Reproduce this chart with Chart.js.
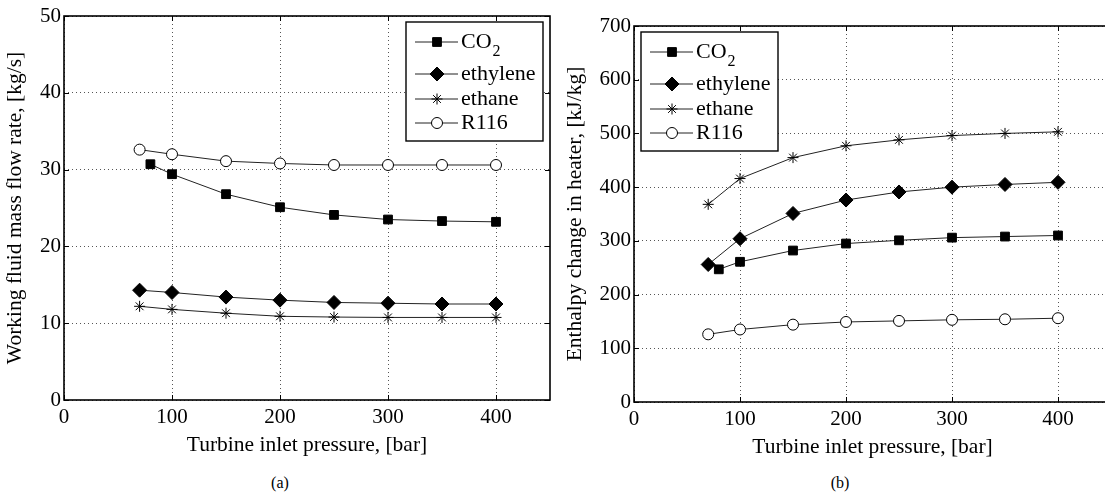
<!DOCTYPE html>
<html>
<head>
<meta charset="utf-8">
<script src="https://cdn.jsdelivr.net/npm/chart.js@4.4.1/dist/chart.umd.min.js"></script>
<style>
  html, body { margin:0; padding:0; background:#fff; }
  body { width:1105px; height:500px; overflow:hidden; position:relative; }
  canvas { position:absolute; top:0; }
  .cap { position:absolute; top:474px; width:60px; margin-left:-30px; text-align:center;
         font:16px 'Liberation Serif', 'DejaVu Serif', serif; color:#000; }
</style>
</head>
<body>
<canvas id="chartA" width="560" height="460" style="left:0"></canvas>
<canvas id="chartB" width="560" height="460" style="left:560px"></canvas>
<div class="cap" style="left:280px">(a)</div>
<div class="cap" style="left:840px">(b)</div>
<script>
// pressures, bar
const pressure    = [70, 100, 150, 200, 250, 300, 350, 400];
const pressureCO2 = [80, 100, 150, 200, 250, 300, 350, 400];

// (a) working fluid mass flow rate, kg/s
const flowCO2      = [30.7, 29.4, 26.8, 25.1, 24.1, 23.5, 23.3, 23.2];
const flowEthylene = [14.3, 14.0, 13.4, 13.0, 12.7, 12.6, 12.5, 12.5];
const flowEthane   = [12.2, 11.8, 11.3, 10.9, 10.8, 10.75, 10.75, 10.75];
const flowR116     = [32.6, 32.0, 31.1, 30.8, 30.6, 30.6, 30.6, 30.6];

// (b) enthalpy change in heater, kJ/kg
const dhCO2      = [247, 261, 282, 295, 301, 306, 308, 310];
const dhEthylene = [256, 304, 351, 376, 391, 400, 405, 409];
const dhEthane   = [368, 416, 455, 477, 488, 496, 500, 503];
const dhR116     = [126, 135, 144, 149, 151, 153, 154, 156];

const xTicks  = [0, 100, 200, 300, 400];
const yTicksA = [0, 10, 20, 30, 40, 50];
const yTicksB = [0, 100, 200, 300, 400, 500, 600, 700];
const names   = ['CO2', 'ethylene', 'ethane', 'R116'];

const FONT = "'Liberation Serif', 'DejaVu Serif', 'Times New Roman', serif";
const styles = [
  { pointStyle:'rect',    pointRadius:6.2, pointBackgroundColor:'#000', pointBorderWidth:1 },
  { pointStyle:'rectRot', pointRadius:7,   pointBackgroundColor:'#000', pointBorderWidth:1 },
  { pointStyle:'star',    pointRadius:5.5, pointBackgroundColor:'#000', pointBorderWidth:1 },
  { pointStyle:'circle',  pointRadius:5.5, pointBackgroundColor:'#fff', pointBorderWidth:1 }
];

const pts = (xs, ys) => xs.map((x, i) => ({ x, y: ys[i] }));

const frame = {
  id: 'frame',
  afterDatasetsDraw(chart){
    const { ctx, chartArea:a, scales:{ x, y } } = chart;
    ctx.save();
    ctx.strokeStyle = '#000';
    ctx.lineWidth = 1;
    ctx.beginPath();
    x.ticks.forEach(t => {
      const p = Math.round(x.getPixelForValue(t.value)) + .5;
      ctx.moveTo(p, a.bottom); ctx.lineTo(p, a.bottom - 5);
      ctx.moveTo(p, a.top);    ctx.lineTo(p, a.top + 5);
    });
    y.ticks.forEach(t => {
      const p = Math.round(y.getPixelForValue(t.value)) + .5;
      ctx.moveTo(a.left, p);  ctx.lineTo(a.left + 5, p);
      ctx.moveTo(a.right, p); ctx.lineTo(a.right - 5, p);
    });
    ctx.stroke();
    ctx.lineWidth = 1.6;
    ctx.strokeRect(a.left, a.top, a.width, a.height);

    // legend box
    const lg = chart.options.plugins.frame;
    const bx = lg.side === 'right' ? a.right - 7 - 137 : a.left + 7;
    const by = a.top + 6;
    ctx.fillStyle = '#fff';
    ctx.fillRect(bx, by, 137, 119);
    ctx.lineWidth = 1.4;
    ctx.strokeRect(bx, by, 137, 119);
    const rows = [20, 52, 77, 101];
    chart.data.datasets.forEach((ds, i) => {
      const ry = by + rows[i];
      ctx.lineWidth = 1;
      ctx.strokeStyle = '#222';
      ctx.beginPath(); ctx.moveTo(bx + 9, ry); ctx.lineTo(bx + 52, ry); ctx.stroke();
      ctx.fillStyle = ds.pointBackgroundColor;
      ctx.strokeStyle = '#000';
      Chart.helpers.drawPoint(ctx, { pointStyle: ds.pointStyle, radius: ds.pointRadius, rotation: 0, borderWidth: 1 }, bx + 31, ry);
      ctx.fillStyle = '#000';
      ctx.textBaseline = 'middle';
      ctx.textAlign = 'left';
      ctx.font = '22px ' + FONT;
      if (names[i] === 'CO2') {
        ctx.fillText('CO', bx + 55, ry);
        const w = ctx.measureText('CO').width;
        ctx.font = '16px ' + FONT;
        ctx.fillText('2', bx + 55 + w + 1, ry + 10);
      } else {
        ctx.fillText(names[i], bx + 55, ry);
      }
    });
    ctx.restore();
  }
};

function makeChart(id, series, yTicks, yMax, yTitle, pad, yWidth, side){
  const datasets = series.map((s, i) => Object.assign({
    label: names[i], data: s, borderColor:'#222', borderWidth:1,
    pointBorderColor:'#000', tension:0, fill:false
  }, styles[i]));
  return new Chart(document.getElementById(id), {
    type: 'line',
    data: { datasets },
    plugins: [frame],
    options: {
      responsive:false, animation:false, devicePixelRatio:1,
      layout: { padding: pad },
      plugins: { legend:{ display:false }, tooltip:{ enabled:false }, frame:{ side } },
      scales: {
        x: {
          type:'linear', min:0, max:450,
          afterBuildTicks: s => { s.ticks = xTicks.map(v => ({ value:v })); },
          afterFit: s => { s.height = 58; },
          grid: { color:'#555', lineWidth:1, drawTicks:false },
          border: { display:false, dash:[1, 3] },
          ticks: { color:'#000', font:{ family:FONT, size:21 }, padding:5, maxRotation:0, autoSkip:false },
          title: { display:true, text:'Turbine inlet pressure, [bar]', color:'#000',
                   font:{ family:FONT, size:21.5 }, padding:{ top:0, bottom:0 } }
        },
        y: {
          type:'linear', min:0, max:yMax,
          afterBuildTicks: s => { s.ticks = yTicks.map(v => ({ value:v })); },
          afterFit: s => { s.width = yWidth; },
          grid: { color:'#555', lineWidth:1, drawTicks:false },
          border: { display:false, dash:[1, 3] },
          ticks: { color:'#000', font:{ family:FONT, size:21 }, padding:3, autoSkip:false },
          title: { display:true, text:yTitle, color:'#000',
                   font:{ family:FONT, size:21.5 }, padding:{ top:2, bottom:0 } }
        }
      }
    }
  });
}

makeChart('chartA',
  [pts(pressureCO2, flowCO2), pts(pressure, flowEthylene), pts(pressure, flowEthane), pts(pressure, flowR116)],
  yTicksA, 50, 'Working fluid mass flow rate, [kg/s]',
  { left:0, right:10, top:16, bottom:2 }, 64, 'right');

makeChart('chartB',
  [pts(pressureCO2, dhCO2), pts(pressure, dhEthylene), pts(pressure, dhEthane), pts(pressure, dhR116)],
  yTicksB, 700, 'Enthalpy change in heater, [kJ/kg]',
  { left:0, right:9, top:26, bottom:0 }, 74, 'left');
</script>
</body>
</html>
